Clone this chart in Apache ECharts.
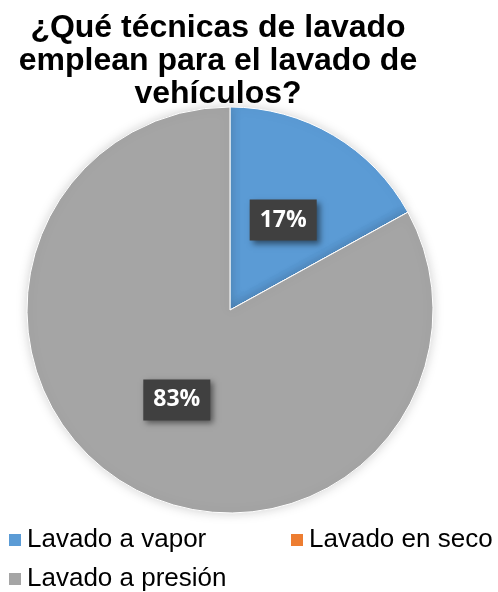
<!DOCTYPE html>
<html>
<head>
<meta charset="utf-8">
<script src="https://cdn.jsdelivr.net/npm/echarts@6/dist/echarts.min.js"></script>
<style>
html,body{margin:0;padding:0;background:#fff;}
#chart{width:498px;height:592px;}
</style>
</head>
<body>
<div id="chart"></div>
<script>
const titleText = '¿Qué técnicas de lavado\nemplean para el lavado de\nvehículos?';
const categories = ['Lavado a vapor', 'Lavado en seco', 'Lavado a presión'];
const values = [17, 0, 83];
const colors = ['#5B9BD5', '#ED7D31', '#A5A5A5'];

const chart = echarts.init(document.getElementById('chart'), null, {renderer: 'canvas'});

const legendText = {fontFamily: 'Liberation Sans, Arial, sans-serif', fontSize: 26, color: '#000'};
function mkLegend(name, left, top) {
  return {
    data: [name], left: left, top: top, orient: 'horizontal',
    icon: 'rect', itemWidth: 14, itemHeight: 14, padding: 0,
    selectedMode: false, textStyle: legendText
  };
}

chart.setOption({
  animation: false,
  color: colors,
  title: {
    text: titleText,
    left: 213, top: 7,
    textAlign: 'center',
    textStyle: {fontFamily: 'Liberation Sans, Arial, sans-serif', fontWeight: 'bold', fontSize: 32, lineHeight: 33, color: '#000'}
  },
  legend: [
    mkLegend(categories[0], 7, 527),
    mkLegend(categories[1], 289, 527),
    mkLegend(categories[2], 7, 566)
  ],
  series: [{
    type: 'pie',
    center: [230, 310],
    radius: [0, 203],
    startAngle: 90,
    clockwise: true,
    data: categories.map((c, i) => ({name: c, value: values[i], label: {show: values[i] > 0}})),
    itemStyle: {borderColor: '#fff', borderWidth: 1, shadowBlur: 12, shadowColor: 'rgba(0,0,0,0.18)'},
    label: {
      show: true,
      position: 'inside',
      formatter: p => Math.round(p.percent) + '%',
      color: '#fff',
      fontFamily: 'Open Sans, sans-serif',
      fontWeight: 'bold',
      fontSize: 23,
      lineHeight: 23,
      backgroundColor: '#404040',
      padding: [9, 10],
      shadowBlur: 6, shadowColor: 'rgba(0,0,0,0.5)', shadowOffsetX: 3, shadowOffsetY: 3
    },
    labelLine: {show: false},
    emphasis: {disabled: true}
  }]
});
</script>
</body>
</html>
